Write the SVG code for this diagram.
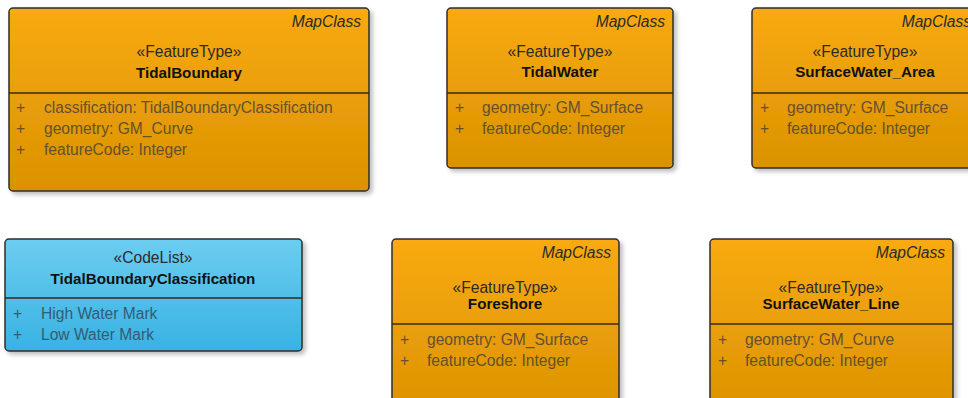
<svg xmlns="http://www.w3.org/2000/svg" width="968" height="398" viewBox="0 0 968 398">
<defs>
<linearGradient id="gOrange" x1="0" y1="0" x2="0" y2="1">
<stop offset="0" stop-color="#F8AA12"/>
<stop offset="1" stop-color="#DA9200"/>
</linearGradient>
<linearGradient id="gBlue" x1="0" y1="0" x2="0" y2="1">
<stop offset="0" stop-color="#6CCDF0"/>
<stop offset="1" stop-color="#38B2E3"/>
</linearGradient>
<filter id="sh" x="-5%" y="-5%" width="115%" height="120%">
<feDropShadow dx="3" dy="3" stdDeviation="2" flood-color="#000" flood-opacity="0.25"/>
</filter>
</defs>
<style>
text{font-family:"Liberation Sans",Arial,sans-serif;font-size:15.6px}
.box{stroke:#2e2e2e;stroke-width:1.5;filter:url(#sh)}
.o{fill:url(#gOrange)}
.b{fill:url(#gBlue)}
.div{stroke:#3a2a12;stroke-width:1.5}
.mc{font-style:italic;fill:#2b2b2b;text-anchor:end}
.st{fill:#2b2b2b;text-anchor:middle}
.nm{font-weight:bold;fill:#111;text-anchor:middle;font-size:15.2px}
.at{fill:#64512e}
.atb{fill:#345c74}
</style>
<rect width="968" height="398" fill="#fff"/>

<g id="TidalBoundary">
<rect class="box o" x="9" y="8" width="360" height="183" rx="4"/>
<line class="div" x1="9" y1="93" x2="369" y2="93"/>
<text class="mc" x="361" y="27">MapClass</text>
<text class="st" x="189" y="57">«FeatureType»</text>
<text class="nm" x="189" y="78">TidalBoundary</text>
<text class="at" x="16" y="113">+</text><text class="at" x="44" y="113">classification: TidalBoundaryClassification</text>
<text class="at" x="16" y="134">+</text><text class="at" x="44" y="134">geometry: GM_Curve</text>
<text class="at" x="16" y="155">+</text><text class="at" x="44" y="155">featureCode: Integer</text>
</g>

<g id="TidalWater">
<rect class="box o" x="447" y="8" width="226" height="160" rx="4"/>
<line class="div" x1="447" y1="93" x2="673" y2="93"/>
<text class="mc" x="665" y="27">MapClass</text>
<text class="st" x="560" y="57">«FeatureType»</text>
<text class="nm" x="560" y="77">TidalWater</text>
<text class="at" x="455" y="113">+</text><text class="at" x="482" y="113">geometry: GM_Surface</text>
<text class="at" x="455" y="134">+</text><text class="at" x="482" y="134">featureCode: Integer</text>
</g>

<g id="SurfaceWater_Area">
<rect class="box o" x="752" y="8" width="226" height="160" rx="4"/>
<line class="div" x1="752" y1="93" x2="978" y2="93"/>
<text class="mc" x="971" y="27">MapClass</text>
<text class="st" x="865" y="57">«FeatureType»</text>
<text class="nm" x="865" y="77">SurfaceWater_Area</text>
<text class="at" x="760" y="113">+</text><text class="at" x="787" y="113">geometry: GM_Surface</text>
<text class="at" x="760" y="134">+</text><text class="at" x="787" y="134">featureCode: Integer</text>
</g>

<g id="TidalBoundaryClassification">
<rect class="box b" x="5" y="239" width="297" height="112" rx="4"/>
<line class="div" x1="5" y1="298" x2="302" y2="298"/>
<text class="st" x="153" y="263">«CodeList»</text>
<text class="nm" x="153" y="284">TidalBoundaryClassification</text>
<text class="atb" x="13" y="319">+</text><text class="atb" x="41" y="319">High Water Mark</text>
<text class="atb" x="13" y="340">+</text><text class="atb" x="41" y="340">Low Water Mark</text>
</g>

<g id="Foreshore">
<rect class="box o" x="392" y="239" width="227" height="180" rx="4"/>
<line class="div" x1="392" y1="324" x2="619" y2="324"/>
<text class="mc" x="611" y="258">MapClass</text>
<text class="st" x="505" y="293">«FeatureType»</text>
<text class="nm" x="505" y="309">Foreshore</text>
<text class="at" x="400" y="345">+</text><text class="at" x="427" y="345">geometry: GM_Surface</text>
<text class="at" x="400" y="366">+</text><text class="at" x="427" y="366">featureCode: Integer</text>
</g>

<g id="SurfaceWater_Line">
<rect class="box o" x="710" y="239" width="243" height="180" rx="4"/>
<line class="div" x1="710" y1="324" x2="953" y2="324"/>
<text class="mc" x="945" y="258">MapClass</text>
<text class="st" x="831" y="293">«FeatureType»</text>
<text class="nm" x="831" y="309">SurfaceWater_Line</text>
<text class="at" x="718" y="345">+</text><text class="at" x="745" y="345">geometry: GM_Curve</text>
<text class="at" x="718" y="366">+</text><text class="at" x="745" y="366">featureCode: Integer</text>
</g>

<g id="connectors"></g>
</svg>
